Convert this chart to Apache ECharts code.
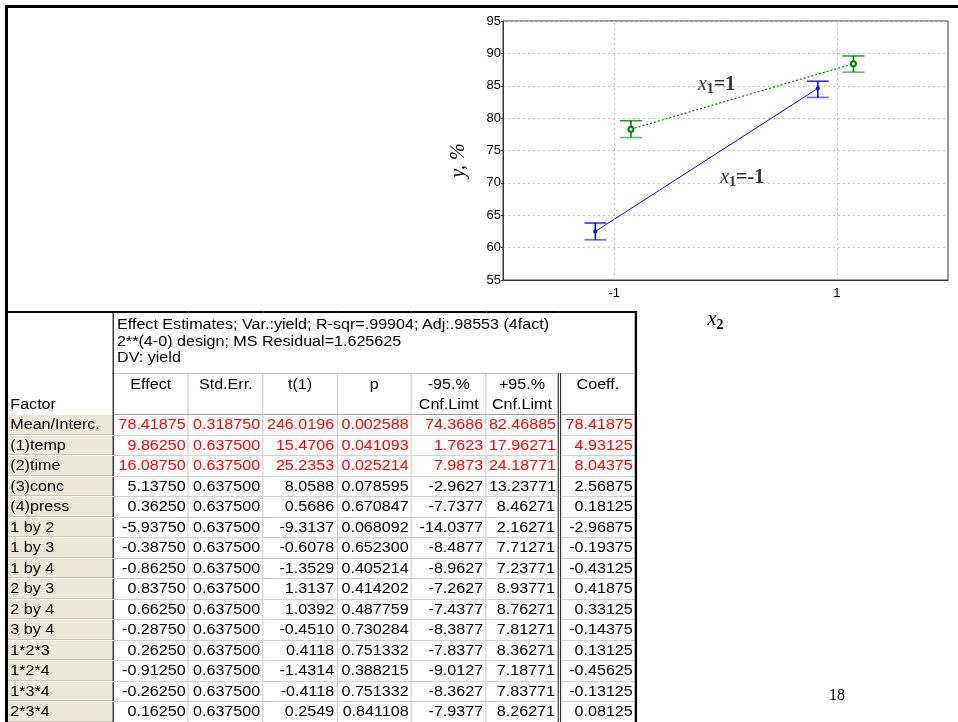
<!DOCTYPE html>
<html>
<head>
<meta charset="utf-8">
<script src="https://cdn.jsdelivr.net/npm/echarts@6/dist/echarts.min.js"></script>
<style>
html,body{margin:0;padding:0;background:#fff;overflow:hidden;}
#chart{position:absolute;left:0;top:0;width:958px;height:722px;}
#frameTop{position:absolute;left:5px;top:5px;width:953px;height:3px;background:#000;}
#frameLeft{position:absolute;left:5px;top:5px;width:3px;height:717px;background:#000;}
#tbl{position:absolute;left:8px;top:311px;transform-origin:0 0;transform:scaleX(1.15);}
#tbl table{border-collapse:collapse;table-layout:fixed;width:546px;font-family:'Liberation Sans',Arial,sans-serif;font-size:14px;color:#000;border-top:2px solid #000;border-right:2.5px solid #000;}
#tbl td{padding:0 2px;white-space:nowrap;overflow:hidden;}
#tbl td.title{height:57px;vertical-align:top;padding:3px 3px 0 3px;line-height:16.5px;border-bottom:1px solid #c8c8c8;}
#tbl td.factor{vertical-align:bottom;border-right:1px solid #000;padding-bottom:3px;}
#tbl td.hdr{height:40px;vertical-align:top;text-align:center;line-height:20px;border-right:1px solid #d4d0c8;border-bottom:1px solid #a0a0a0;}
#tbl tr.row{height:20.5px;}
#tbl td.lab{background:#ece9d8;border-right:1px solid #000;border-bottom:1px solid #fff;box-shadow:inset 0 -1px 0 #c9c5b5;line-height:19px;}
#tbl td.num{text-align:right;border-right:1px solid #d4d0c8;border-bottom:1px solid #d4d0c8;line-height:19px;}
#tbl td.coef{border-left:3px double #333;}
</style>
</head>
<body>
<div id="chart"></div>
<div id="tbl"></div>
<div id="frameTop"></div>
<div id="frameLeft"></div>
<script>
// interaction plot: x2 level vs mean yield, for x1 = -1 / x1 = 1
var blueX = [-1.17, 0.83];
var blueY = [62.5, 84.6];
var blueLow = [61.2, 83.2];
var blueHigh = [63.8, 85.7];
var greenX = [-0.85, 1.15];
var greenY = [78.3, 88.4];
var greenLow = [77.0, 87.1];
var greenHigh = [79.6, 89.6];
var xTickVals = [-1, 1];
var labelX = [-0.08, 0.15];
var labelY = [85.2, 70.8];
var labelVal = ['1', '-1'];

// effect estimates table
var titleLines = ['Effect Estimates; Var.:yield; R-sqr=.99904; Adj:.98553 (4fact)',
                  '2**(4-0) design; MS Residual=1.625625',
                  'DV: yield'];
var colHeads = ['Effect', 'Std.Err.', 't(1)', 'p', '-95.%<br>Cnf.Limt', '+95.%<br>Cnf.Limt', 'Coeff.'];
var factors = ['Mean/Interc.', '(1)temp', '(2)time', '(3)conc', '(4)press', '1 by 2', '1 by 3', '1 by 4',
               '2 by 3', '2 by 4', '3 by 4', '1*2*3', '1*2*4', '1*3*4', '2*3*4'];
var effect = [78.41875, 9.8625, 16.0875, 5.1375, 0.3625, -5.9375, -0.3875, -0.8625, 0.8375, 0.6625, -0.2875, 0.2625, -0.9125, -0.2625, 0.1625];
var stdErr = [0.31875, 0.6375, 0.6375, 0.6375, 0.6375, 0.6375, 0.6375, 0.6375, 0.6375, 0.6375, 0.6375, 0.6375, 0.6375, 0.6375, 0.6375];
var tVal = [246.0196, 15.4706, 25.2353, 8.0588, 0.5686, -9.3137, -0.6078, -1.3529, 1.3137, 1.0392, -0.4510, 0.4118, -1.4314, -0.4118, 0.2549];
var pVal = [0.002588, 0.041093, 0.025214, 0.078595, 0.670847, 0.068092, 0.652300, 0.405214, 0.414202, 0.487759, 0.730284, 0.751332, 0.388215, 0.751332, 0.841108];
var cnfLow = [74.3686, 1.7623, 7.9873, -2.9627, -7.7377, -14.0377, -8.4877, -8.9627, -7.2627, -7.4377, -8.3877, -7.8377, -9.0127, -8.3627, -7.9377];
var cnfHigh = [82.46885, 17.96271, 24.18771, 13.23771, 8.46271, 2.16271, 7.71271, 7.23771, 8.93771, 8.76271, 7.81271, 8.36271, 7.18771, 7.83771, 8.26271];
var coeff = [78.41875, 4.93125, 8.04375, 2.56875, 0.18125, -2.96875, -0.19375, -0.43125, 0.41875, 0.33125, -0.14375, 0.13125, -0.45625, -0.13125, 0.08125];

// build table
var colW = [91.3, 65.7, 64.8, 64.3, 64.8, 64.8, 63.5, 67.0];
var h = '<table><colgroup>';
for (var c = 0; c < colW.length; c++) h += '<col style="width:' + colW[c] + 'px">';
h += '</colgroup>';
h += '<tr><td class="factor" rowspan="2">Factor</td><td class="title" colspan="7">' + titleLines.join('<br>') + '</td></tr>';
h += '<tr>';
for (var c = 0; c < colHeads.length; c++) {
    h += '<td class="hdr' + (c == 6 ? ' coef' : '') + '">' + colHeads[c] + '</td>';
}
h += '</tr>';
for (var i = 0; i < factors.length; i++) {
    var col = pVal[i] < 0.05 ? '#ff0000' : '#000';
    var vals = [effect[i].toFixed(5), stdErr[i].toFixed(6), tVal[i].toFixed(4), pVal[i].toFixed(6),
                cnfLow[i].toFixed(4), cnfHigh[i].toFixed(5), coeff[i].toFixed(5)];
    h += '<tr class="row"><td class="lab">' + factors[i] + '</td>';
    for (var c = 0; c < vals.length; c++) {
        h += '<td class="num' + (c == 6 ? ' coef' : '') + '" style="color:' + col + '">' + vals[c] + '</td>';
    }
    h += '</tr>';
}
h += '</table>';
document.getElementById('tbl').innerHTML = h;

var serif = "'Liberation Serif','DejaVu Serif',serif";
var labRich = {
    x: {fontFamily: serif, fontStyle: 'italic', fontSize: 20, color: '#000'},
    s: {fontFamily: serif, fontWeight: 'bold', fontSize: 14, color: '#000', padding: [10, 0, 0, 0]},
    n: {fontFamily: serif, fontWeight: 'bold', fontSize: 20, color: '#000'}
};

function errBars(color) {
    return function (params, api) {
        var x = api.value(0);
        var lo = api.coord([x, api.value(1)]);
        var hi = api.coord([x, api.value(2)]);
        var w = 11;
        return {
            type: 'group',
            children: [
                {type: 'line', shape: {x1: lo[0], y1: lo[1], x2: hi[0], y2: hi[1]}, style: {stroke: color, lineWidth: 1.6}},
                {type: 'line', shape: {x1: lo[0] - w, y1: lo[1], x2: lo[0] + w, y2: lo[1]}, style: {stroke: color, lineWidth: 1.6, opacity: 0.6}},
                {type: 'line', shape: {x1: hi[0] - w, y1: hi[1], x2: hi[0] + w, y2: hi[1]}, style: {stroke: color, lineWidth: 1.6, opacity: 0.8}}
            ]
        };
    };
}

var myChart = echarts.init(document.getElementById('chart'));
var option = {
    animation: false,
    grid: {left: 503, right: 10, top: 21, bottom: 442, show: true, borderColor: '#333', borderWidth: 1, backgroundColor: 'transparent'},
    xAxis: {
        type: 'value', min: -2, max: 2, interval: 1,
        name: '{x|x}{s|2}', nameLocation: 'middle', nameGap: 28,
        nameTextStyle: {rich: labRich, padding: [0, 20, 0, 0]},
        axisLine: {show: true, onZero: false, lineStyle: {color: '#333'}},
        axisTick: {show: false},
        splitLine: {show: false},
        axisLabel: {
            margin: 7, fontSize: 13, color: '#000', fontFamily: 'Liberation Sans, Arial',
            formatter: function (v) { return xTickVals.indexOf(v) >= 0 ? String(v) : ''; }
        }
    },
    yAxis: {
        type: 'value', min: 55, max: 95, interval: 5,
        name: 'y, %', nameLocation: 'middle', nameGap: 34, nameRotate: 90,
        nameTextStyle: {fontFamily: serif, fontStyle: 'italic', fontSize: 20, color: '#000', padding: [0, 20, 0, 0]},
        axisLine: {show: true, onZero: false, lineStyle: {color: '#333'}},
        axisTick: {show: true, length: 2, lineStyle: {color: '#333'}},
        splitLine: {show: true, lineStyle: {color: '#c4c4c4', type: [2, 3]}},
        axisLabel: {margin: 2, fontSize: 13, color: '#000', fontFamily: 'Liberation Sans, Arial'}
    },
    graphic: [
        {type: 'text', left: 829, top: 688, style: {text: '18', font: '16px ' + serif, fill: '#000'}}
    ],
    series: [
        {
            type: 'line',
            data: blueX.map(function (x, i) { return [x, blueY[i]]; }),
            symbol: 'circle', symbolSize: 4,
            itemStyle: {color: '#0000ff'},
            lineStyle: {color: '#0000ff', width: 1},
            z: 4,
            markLine: {
                silent: true, symbol: 'none', label: {show: false},
                lineStyle: {color: '#c4c4c4', type: [2, 3], width: 1},
                data: xTickVals.map(function (v) { return {xAxis: v}; })
            }
        },
        {
            type: 'line',
            data: greenX.map(function (x, i) { return [x, greenY[i]]; }),
            symbol: 'emptyCircle', symbolSize: 5,
            itemStyle: {color: '#008000', borderWidth: 1.5},
            lineStyle: {color: '#008000', width: 1.2, type: [2, 2]},
            z: 4
        },
        {
            type: 'custom', renderItem: errBars('#0000ff'), z: 3,
            encode: {x: 0, y: [1, 2]},
            data: blueX.map(function (x, i) { return [x, blueLow[i], blueHigh[i]]; })
        },
        {
            type: 'custom', renderItem: errBars('#008000'), z: 3,
            encode: {x: 0, y: [1, 2]},
            data: greenX.map(function (x, i) { return [x, greenLow[i], greenHigh[i]]; })
        },
        {
            type: 'scatter', symbolSize: 1, itemStyle: {color: 'rgba(0,0,0,0)'},
            data: labelX.map(function (x, i) { return [x, labelY[i], labelVal[i]]; }),
            label: {
                show: true, position: 'inside', rich: labRich,
                formatter: function (p) { return '{x|x}{s|1}{n|=' + p.value[2] + '}'; }
            }
        }
    ]
};
myChart.setOption(option);
</script>
</body>
</html>
